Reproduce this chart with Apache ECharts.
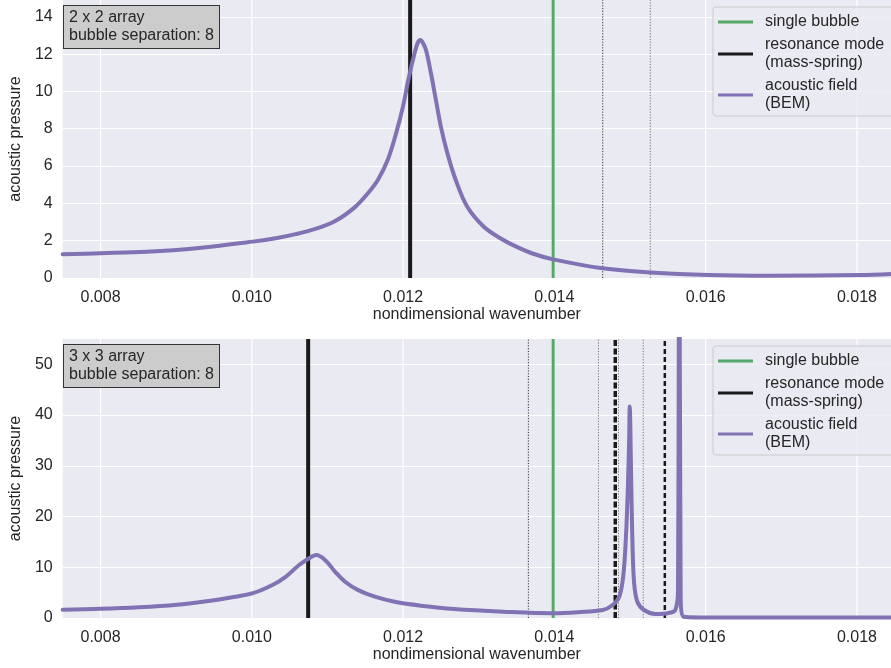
<!DOCTYPE html>
<html><head><meta charset="utf-8">
<script src="https://cdn.jsdelivr.net/npm/echarts@6/dist/echarts.min.js"></script>
<style>html,body{margin:0;padding:0;background:#fff}#c{width:891px;height:668px}</style>
</head><body><div id="c"></div>
<script>
// ---------------- data ----------------
const xGridTicks = [0.008, 0.010, 0.012, 0.014, 0.016, 0.018];
const legendNames = ['single bubble', 'resonance mode\n(mass-spring)', 'acoustic field\n(BEM)'];
const panelLabels = ['2 x 2 array\nbubble separation: 8', '3 x 3 array\nbubble separation: 8'];
const axisNameX = 'nondimensional wavenumber';
const axisNameY = 'acoustic pressure';

// top panel (2 x 2)
const topWavenumber = [0.0075, 0.0080, 0.008607, 0.009271, 0.010015, 0.010317, 0.010579, 0.01084, 0.011102, 0.011364, 0.011535, 0.011666, 0.011796, 0.011907, 0.011998, 0.012068, 0.012149, 0.012193, 0.012229, 0.012263, 0.012304, 0.012369, 0.012434, 0.0125, 0.012586, 0.012696, 0.012848, 0.013067, 0.013286, 0.01346, 0.013721, 0.013984, 0.014639, 0.015268, 0.01604, 0.016826, 0.018044, 0.01845];
const topPressure   = [1.27, 1.33, 1.41, 1.6, 1.95, 2.13, 2.35, 2.63, 3.05, 3.8, 4.54, 5.25, 6.32, 7.75, 9.18, 10.6, 12.0, 12.6, 12.75, 12.6, 12.2, 10.96, 9.53, 8.1, 6.68, 5.25, 3.82, 2.75, 2.13, 1.75, 1.3, 1.0, 0.52, 0.3, 0.16, 0.12, 0.16, 0.22];
const topSingleBubble = [0.013984];
const topMassSpring = [0.012093];
const topMassSpringOther = [];
const topDottedDark = [0.014639];
const topDottedLight = [0.015268];

// bottom panel (3 x 3)
const botWavenumber = [0.0075, 0.0080, 0.008506, 0.009009, 0.009402, 0.009703, 0.010015, 0.010273, 0.010447, 0.010621, 0.010752, 0.010854, 0.010971, 0.011102, 0.011233, 0.011407, 0.011626, 0.011888, 0.012238, 0.012674, 0.013329, 0.013984, 0.014311, 0.014639, 0.01477, 0.014857, 0.014909, 0.014944, 0.01497, 0.014988, 0.014996, 0.015014, 0.015031, 0.015054, 0.015097, 0.015185, 0.015337, 0.015512, 0.015599, 0.015634, 0.015651, 0.015669, 0.015708, 0.015948, 0.017258, 0.01845];
const botPressure   = [1.65, 1.8, 2.1, 2.6, 3.3, 4.0, 4.9, 6.5, 8.1, 10.4, 11.75, 12.4, 11.4, 9.1, 7.15, 5.5, 4.2, 3.2, 2.43, 1.77, 1.25, 0.95, 1.15, 1.57, 2.56, 4.2, 8.1, 15.4, 25, 35, 41.7, 28.5, 15.4, 6.9, 3.2, 1.57, 0.8, 1.0, 1.6, 5.5, 120, 5, 0.25, 0.12, 0.1, 0.1];
const botSingleBubble = [0.013984];
const botMassSpring = [0.010745];
const botMassSpringOther = [0.014805, 0.01546];
const botDottedDark = [0.013656];
const botDottedLight = [0.014582, 0.014848, 0.015175];

const xMin = 0.0075, xMax = 0.01845;
const yMax = [14.9, 55];
const yInterval = [2, 10];

// ---------------- styles ----------------
const FONT = '"Liberation Sans", Arial, Helvetica, sans-serif';
const TXT = '#262626';
const GREEN = '#55A868', BLACK = '#1a1a1a', PURPLE = '#8172B3';

let uid = 0;
function vSeries(name, idx, v, style, z) {
  return { name: name || ('_v' + (uid++)), type: 'line', xAxisIndex: idx, yAxisIndex: idx,
    data: [[v, 0], [v, yMax[idx]]], color: style.color, showSymbol: false, symbol: 'none',
    z, silent: true, animation: false, clip: true,
    lineStyle: { color: style.color, width: style.width, type: style.type, cap: 'butt' } };
}

const panels = [
  { x: topWavenumber, y: topPressure, single: topSingleBubble, mass: topMassSpring, massOther: topMassSpringOther, dark: topDottedDark, light: topDottedLight },
  { x: botWavenumber, y: botPressure, single: botSingleBubble, mass: botMassSpring, massOther: botMassSpringOther, dark: botDottedDark, light: botDottedLight }
];
const gridTop = [0, 339], gridH = [278, 279];

const series = [];
panels.forEach((p, i) => {
  xGridTicks.forEach(v => series.push(vSeries(null, i, v, { color: '#ffffff', width: 1.2, type: 'solid' }, 1)));
  p.dark.forEach(v => series.push(vSeries(null, i, v, { color: '#333333', width: 1, type: [1.2, 1.6] }, 2)));
  p.light.forEach(v => series.push(vSeries(null, i, v, { color: '#777777', width: 1, type: [1.2, 1.6] }, 2)));
  p.single.forEach(v => series.push(vSeries(legendNames[0], i, v, { color: GREEN, width: 3, type: 'solid' }, 3)));
  p.mass.forEach(v => series.push(vSeries(legendNames[1], i, v, { color: BLACK, width: 4, type: 'solid' }, 3)));
  p.massOther.forEach((v, k) => series.push(vSeries(null, i, v,
    k === 0 ? { color: BLACK, width: 3.5, type: [6, 2.5] } : { color: BLACK, width: 2.5, type: [5, 3] }, 3)));
  series.push({
    name: legendNames[2], type: 'line', xAxisIndex: i, yAxisIndex: i, color: PURPLE,
    data: p.x.map((v, k) => [v, p.y[k]]), showSymbol: false, symbol: 'none', z: 5, silent: true,
    animation: false, clip: true, smooth: 0.35,
    lineStyle: { color: PURPLE, width: 4, join: 'round', cap: 'round' }
  });
});

const option = {
  animation: false,
  backgroundColor: '#ffffff',
  textStyle: { fontFamily: FONT },
  grid: [0, 1].map(i => ({ left: 55, top: gridTop[i], right: 0, height: gridH[i], show: true,
    backgroundColor: '#EAEAF2', borderWidth: 0, containLabel: false })),
  xAxis: [0, 1].map(i => ({
    type: 'value', gridIndex: i, min: xMin, max: xMax, interval: 0.0005,
    axisLine: { show: false }, axisTick: { show: false }, splitLine: { show: false },
    axisLabel: { fontSize: 16, color: TXT, fontFamily: FONT, margin: 12, showMaxLabel: false,
      formatter: v => { const r = v / 0.002; return Math.abs(r - Math.round(r)) < 1e-6 ? v.toFixed(3) : ''; } },
    name: axisNameX, nameLocation: 'middle', nameGap: 29,
    nameTextStyle: { fontSize: 16, color: TXT, fontFamily: FONT }
  })),
  yAxis: [0, 1].map(i => ({
    type: 'value', gridIndex: i, min: 0, max: yMax[i], interval: yInterval[i],
    axisLine: { show: false }, axisTick: { show: false },
    splitLine: { show: true, showMaxLine: false, lineStyle: { color: '#ffffff', width: 1.2 } },
    axisLabel: { fontSize: 16, color: TXT, fontFamily: FONT, margin: 10, showMaxLabel: false },
    name: axisNameY, nameLocation: 'middle', nameGap: 28,
    nameTextStyle: { fontSize: 16, color: TXT, fontFamily: FONT }
  })),
  legend: [0, 1].map(i => ({
    data: legendNames, orient: 'vertical', left: 713, top: gridTop[i] + 7,
    icon: 'rect', itemWidth: 35, itemHeight: 3, itemGap: 5,
    padding: [6, 40, 3, 5], backgroundColor: 'rgba(234,234,242,0.8)',
    borderColor: '#cccccc', borderWidth: 1, borderRadius: 3,
    selectedMode: false,
    itemStyle: { borderWidth: 0 },
    textStyle: { fontSize: 16, color: TXT, fontFamily: FONT, lineHeight: 18, padding: [0, 0, 0, 7] }
  })),
  graphic: [0, 1].map(i => ({
    type: 'text', x: 64, y: gridTop[i] + 6, z: 100, silent: true,
    style: { text: panelLabels[i], fontSize: 16, fontFamily: FONT, fill: TXT, lineHeight: 18,
      backgroundColor: '#cccccc', borderColor: '#333333', borderWidth: 1, padding: [3, 5, 3, 5],
      align: 'left', verticalAlign: 'top' }
  })),
  series
};
const chart = echarts.init(document.getElementById('c'), null, { renderer: 'canvas' });
chart.setOption(option);
</script>
</body></html>
